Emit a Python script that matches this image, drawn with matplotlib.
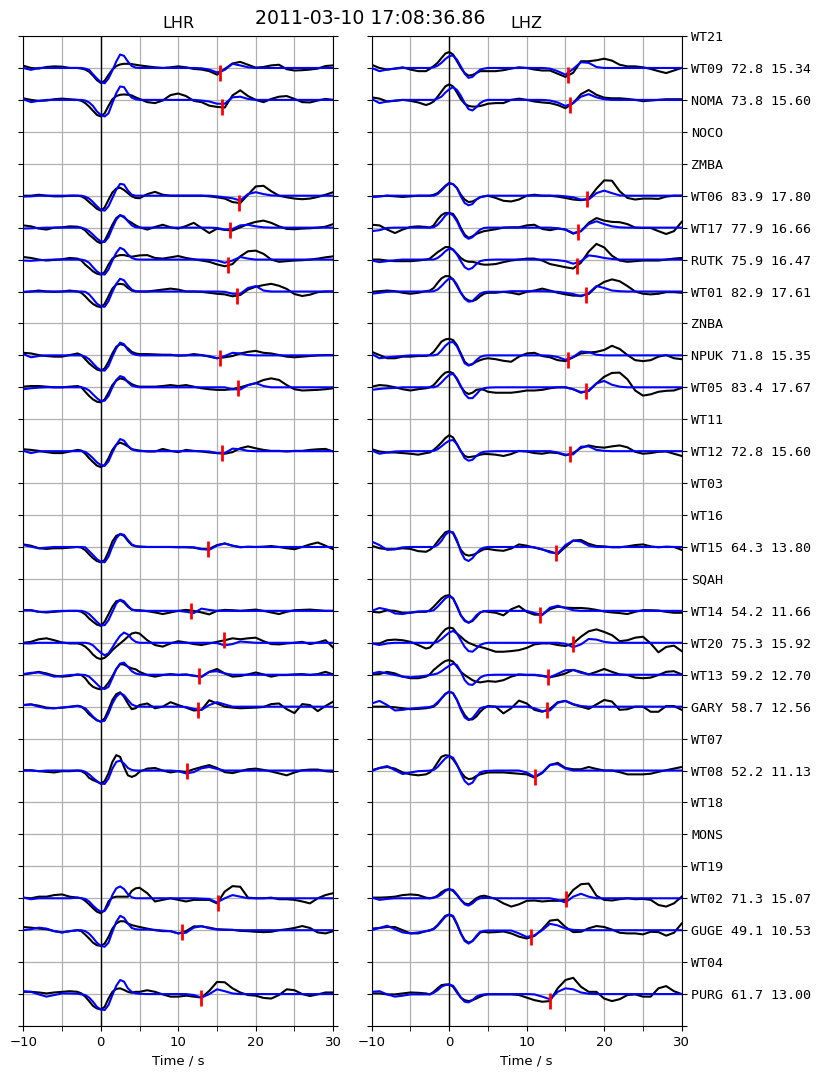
import numpy as np
import matplotlib
matplotlib.use("Agg")
import matplotlib.pyplot as plt
from matplotlib.ticker import MultipleLocator

# ---------------------------------------------------------------------------
# Sample times (s): 1 s steps, 0.5 s steps around the first arrival
t = np.r_[np.arange(-10, -2.5), np.arange(-2.5, 5.01, 0.5), np.arange(6, 31)]

# Station order, top to bottom
stations = ["WT21", "WT09", "NOMA", "NOCO", "ZMBA", "WT06", "WT17", "RUTK",
            "WT01", "ZNBA", "NPUK", "WT05", "WT11", "WT12", "WT03", "WT16",
            "WT15", "SQAH", "WT14", "WT20", "WT13", "GARY", "WT07", "WT08",
            "WT18", "MONS", "WT19", "WT02", "GUGE", "WT04", "PURG"]

# Epicentral distance (km) and marked arrival time (s) of stations with data
distance = {"WT09": 72.8, "NOMA": 73.8, "WT06": 83.9, "WT17": 77.9,
            "RUTK": 75.9, "WT01": 82.9, "NPUK": 71.8, "WT05": 83.4,
            "WT12": 72.8, "WT15": 64.3, "WT14": 54.2, "WT20": 75.3,
            "WT13": 59.2, "GARY": 58.7, "WT08": 52.2, "WT02": 71.3,
            "GUGE": 49.1, "PURG": 61.7}
arrival = {"WT09": 15.34, "NOMA": 15.60, "WT06": 17.80, "WT17": 16.66,
           "RUTK": 16.47, "WT01": 17.61, "NPUK": 15.35, "WT05": 17.67,
           "WT12": 15.60, "WT15": 13.80, "WT14": 11.66, "WT20": 15.92,
           "WT13": 12.70, "GARY": 12.56, "WT08": 11.13, "WT02": 15.07,
           "GUGE": 10.53, "PURG": 13.00}

# Normalised waveforms, in percent of the trace spacing
# ---- LHR ----
wt09_lhr_obs = [7, 0, -2, 3, 5, 4, 0, 0,
                -2, -5, -12, -24, -38, -47, -40, -22, -5, 6, 11, 13, 13, 12, 10, 8,
                5, 2, 0, 2, 5, 2, -3, -5, -10, -21, -3, 14, 19, 10, 1, 3, 8, 10, -4, -8, -7, -5, -2, 6, 8]
wt09_lhr_syn = [0, -6, 0, 0, 0, 0, 0, 0,
                0, -2, -6, -20, -33, -44, -48, -33, -8, 20, 42, 38, 20, 6, 1, 0,
                0, 0, 0, 0, 0, 0, 0, -1, -5, -14, -6, 13, 8, 2, 0, 0, 0, 0, 0, 0, 0, 0, 0, 0, 0]
noma_lhr_obs = [5, 0, -3, -2, 2, 4, 2, 0,
                -3, -10, -21, -34, -47, -52, -42, -19, 2, 12, 16, 17, 16, 14, 8, 3,
                -7, -10, -2, 15, 20, 12, -3, -7, -18, -22, -24, 14, 30, 12, 0, -7, 3, 10, 12, 3, -7, -8, -2, 3, 0]
noma_lhr_syn = [2, -7, -3, 0, 0, 0, 0, 0,
                0, -2, -8, -19, -36, -47, -52, -42, -10, 21, 42, 40, 21, 7, 2, 0,
                0, 0, 0, 0, 0, 0, 0, -2, -5, -12, -12, 8, 10, 3, 0, 0, 0, 0, 0, 0, 0, 0, 0, 0, 0]
wt06_lhr_obs = [0, 0, 3, 0, -2, -2, 0, 0,
                -2, -9, -20, -30, -41, -47, -37, -13, 10, 22, 25, 18, 8, -2, -7, -8,
                5, 12, 3, 0, 0, 0, 0, 0, -2, -5, -9, -20, -23, 3, 29, 31, 14, 0, -5, -9, -11, -9, -4, 3, 11]
wt06_lhr_syn = [-3, -2, 0, 0, 0, 0, 0, 0,
                0, -3, -9, -20, -33, -44, -47, -33, -7, 19, 37, 35, 16, 3, 0, 0,
                0, 0, 0, 0, 0, 0, 0, 0, 0, -2, -5, -8, -15, 5, 11, 5, 1, 0, 0, 0, 0, 0, 0, 0, 0]
wt17_lhr_obs = [7, 4, -3, -6, 0, 1, 4, 3,
                -1, -9, -22, -32, -43, -49, -41, -17, 9, 30, 39, 32, 22, 15, 7, 1,
                -6, 2, 9, 1, -3, 5, 15, -1, -17, -3, -7, -9, 1, 11, 18, 22, 15, 4, -4, -5, -3, -2, 0, 3, 11]
wt17_lhr_syn = [-3, -2, -1, 0, 0, 0, 0, 0,
                0, -4, -11, -22, -34, -43, -45, -30, -1, 25, 39, 35, 20, 7, 1, 0,
                0, 0, 0, 0, 0, 0, 0, 0, 0, -1, -6, -4, 7, 9, 4, 1, 0, 0, 0, 0, 0, 0, 0, 0, 0]
rutk_lhr_obs = [8, 5, 0, -3, -1, 1, 5, 3,
                -3, -16, -26, -37, -44, -47, -39, -16, 3, 11, 14, 14, 11, 9, 11, 13,
                14, 5, 3, 7, 11, 5, 1, -3, -7, -15, -21, -14, 10, 26, 28, 18, 0, -7, -5, -3, -2, 0, 3, 7, 10]
rutk_lhr_syn = [-3, -4, -2, -1, 0, 0, 0, 0,
                0, -3, -10, -24, -37, -45, -47, -31, -3, 21, 37, 31, 16, 5, 1, 0,
                0, 0, 0, 0, 0, 0, 0, 0, -1, -3, -10, -3, 8, 3, 0, 0, 0, 0, 0, 0, 0, 0, 0, 0, 0]
wt01_lhr_obs = [-2, 0, 3, 0, -1, 0, 3, 0,
                -4, -15, -28, -39, -46, -49, -39, -15, 9, 22, 24, 22, 11, 3, 0, 0,
                0, 3, 6, 9, 6, 0, 0, -1, -4, -7, -9, -15, -11, 6, 15, 20, 24, 18, 8, -8, -14, -10, -2, 0, 0]
wt01_lhr_syn = [-1, 0, 0, 0, 0, 0, 0, 0,
                0, -1, -9, -23, -38, -46, -48, -30, -1, 24, 40, 35, 19, 6, 1, 0,
                0, 0, 0, 0, 0, 0, 0, 0, 0, 0, -1, -7, -7, 11, 17, 3, 0, 0, 0, 0, 0, 0, 0, 0, 0]
npuk_lhr_obs = [8, 6, 1, -2, -4, -4, 1, 6,
                1, -12, -25, -35, -44, -48, -41, -20, 6, 27, 35, 32, 22, 11, 6, 4,
                4, 3, 2, 2, -1, 0, 4, 1, -4, -9, -6, -2, 6, 11, 14, 8, 6, 1, -4, -6, -4, -2, 0, 1, 1]
npuk_lhr_syn = [4, -6, -2, 0, 0, 0, 0, 0,
                0, -4, -12, -25, -38, -46, -48, -33, -4, 22, 40, 35, 17, 6, 2, 0,
                0, 0, 0, 0, 0, 0, 0, 0, -2, -9, -2, 8, 6, 1, 0, 0, 0, 0, 0, 0, 0, 0, 0, 0, 0]
wt05_lhr_obs = [2, 4, 4, 2, 0, 0, 2, 4,
                0, -14, -27, -38, -45, -47, -38, -17, 7, 21, 28, 25, 18, 10, 5, 2,
                2, 2, 4, 7, 4, 7, 2, -3, -6, -8, -8, -6, 0, 7, 13, 23, 28, 23, 7, -6, -10, -9, -8, -6, -3]
wt05_lhr_syn = [-6, -3, -1, 0, 0, 0, 0, 0,
                0, -3, -10, -22, -34, -43, -42, -27, 0, 23, 35, 31, 16, 5, 2, 0,
                0, 0, 0, 0, 0, 0, 0, 0, 0, 0, 0, -6, -7, 7, 13, 4, 0, 0, 0, 0, 0, 0, 0, 0, 0]
wt12_lhr_obs = [6, 4, 1, -3, -6, -6, -1, 4,
                2, -8, -22, -34, -45, -50, -43, -22, 4, 20, 27, 22, 15, 6, 4, 2,
                -1, -1, 7, 1, -3, 4, 1, -1, -4, -6, -8, -3, 9, 15, 9, 4, 1, 1, -1, 1, 1, 4, 6, 7, -1]
wt12_lhr_syn = [1, -6, -1, 0, 0, 0, 0, 0,
                0, -2, -11, -22, -35, -43, -46, -32, -4, 20, 38, 33, 17, 6, 2, 0,
                0, 0, 0, 0, 0, 0, 0, 0, -1, -6, -6, 8, 6, 1, 0, 0, 0, 0, 0, 0, 0, 0, 0, 0, 0]
wt15_lhr_obs = [8, 4, -4, -6, -4, -4, -2, 0,
                -2, -10, -23, -35, -44, -48, -41, -15, 17, 35, 40, 35, 19, 6, 2, 1,
                0, 0, 0, 0, -1, -1, -2, -7, -6, 6, 11, 4, -1, 1, 0, 1, 3, 0, -4, -7, 0, 8, 14, 4, -7]
wt15_lhr_syn = [6, 1, -4, -2, 0, 0, 0, 0,
                0, -1, -13, -25, -38, -46, -48, -30, 1, 27, 41, 38, 22, 8, 3, 1,
                0, 0, 0, 0, 0, 0, -1, -6, -9, 4, 11, 4, 0, 0, 0, 0, 0, 0, 0, 0, 0, 0, 0, 0, 0]
wt14_lhr_obs = [2, 2, -3, -5, -3, -1, 0, 0,
                -3, -11, -24, -34, -43, -47, -34, -11, 13, 30, 33, 26, 13, 4, 2, 2,
                -1, -5, -10, -5, 0, 3, 0, -5, -11, 0, 3, 2, 0, 2, 4, 0, -5, -10, -3, 2, 3, 4, 2, 0, 0]
wt14_lhr_syn = [2, 2, -3, -3, -1, 0, 0, 0,
                0, -3, -10, -22, -34, -45, -45, -29, -3, 23, 35, 30, 16, 4, 1, 0,
                0, 0, 0, 0, 0, -3, -7, 7, 3, 0, 0, 0, 0, 0, 0, 0, 0, 0, 0, 0, 0, 0, 0, 0, 0]
wt20_lhr_obs = [0, 3, 11, 14, 8, 1, -2, -2,
                -5, -12, -23, -37, -47, -51, -47, -37, -23, -12, -2, 8, 19, 29, 32, 29,
                8, -7, -12, -2, 5, 1, -4, -7, -2, 3, 8, 14, 11, 14, 16, 5, -4, -5, -2, 0, 3, -4, 1, 8, -15]
wt20_lhr_syn = [-2, -2, 0, 0, 0, 0, 0, 0,
                0, 0, -2, -8, -20, -31, -39, -33, -15, 5, 22, 32, 26, 12, 3, 0,
                0, 0, 0, 0, 0, 0, 0, 0, 0, -1, -8, -4, 4, 2, 0, 0, 0, 0, 0, 0, 0, 0, 0, 0, 0]
wt13_lhr_obs = [1, 4, 9, 4, -3, -6, -4, 1,
                -1, -11, -27, -38, -43, -46, -40, -25, -5, 18, 33, 32, 25, 20, 17, 9,
                -1, -6, -1, 2, -1, 1, -3, -6, 9, 18, 4, -6, -4, 1, 7, 1, -6, -1, -1, 1, 2, -1, 2, 9, 1]
wt13_lhr_syn = [2, 6, 7, 1, -6, -4, -1, 0,
                0, -1, -6, -17, -29, -41, -45, -38, -11, 17, 35, 38, 25, 11, 4, 1,
                0, 0, 0, 0, 0, 0, -3, -7, 9, 11, 4, 0, 0, 0, 0, 0, 0, 0, 0, 0, 0, 0, 0, 0, 0]
gary_lhr_obs = [5, 7, 3, -3, -5, -3, -1, 3,
                0, -10, -24, -34, -43, -47, -37, -10, 21, 39, 45, 31, 10, -8, -5, 5,
                10, -5, 0, 14, 5, -3, -12, -10, 20, 10, 0, -3, -5, -4, -3, -1, 8, 10, -8, -20, 8, 5, -14, 2, 16]
gary_lhr_syn = [5, 7, 0, -5, -5, -3, 0, 2,
                -1, -5, -18, -31, -42, -47, -44, -21, 10, 31, 42, 36, 21, 7, 2, 0,
                0, 0, 0, 0, 0, -1, -7, -10, 5, 14, 7, 0, 0, 0, 0, 0, 0, 0, 0, 0, 0, 0, 0, 0, 0]
wt08_lhr_obs = [1, 1, -2, -4, -6, -2, -2, 0,
                -2, -9, -23, -30, -35, -41, -33, -9, 27, 48, 43, 11, -15, -20, -15, -4,
                6, 8, 0, -6, -2, -4, 4, 11, 17, 8, -5, -8, -2, 4, 6, 2, -3, -9, -15, -6, 1, 3, 3, -2, -4]
wt08_lhr_syn = [0, 0, -2, 0, 0, 0, 0, 0,
                0, -4, -12, -23, -33, -41, -42, -25, 6, 27, 31, 22, 8, 2, 0, 0,
                0, 0, 0, 0, -2, -9, -5, 7, 11, 5, 0, 0, 0, 0, 0, 0, 0, 0, 0, 0, 0, 0, 0, 0, 0]
wt02_lhr_obs = [2, 0, 5, 5, 10, 12, 5, 2,
                0, -8, -19, -31, -42, -47, -37, -10, 2, 5, 5, 5, 5, 23, 31, 33,
                16, -10, -5, 0, -5, -10, -5, -5, -5, -16, 21, 38, 36, 2, 0, 0, 2, -3, -3, -5, -10, -16, 0, 10, 16]
wt02_lhr_syn = [2, -3, 0, 0, 0, 0, 0, 2,
                0, -2, -10, -23, -34, -42, -40, -21, 10, 31, 37, 29, 13, 3, 0, 0,
                0, 0, 0, 0, 0, 0, 0, -1, -2, -13, 0, 10, 5, 0, 0, 0, 0, 0, 0, 0, 0, 0, 0, 0, 0]
guge_lhr_obs = [10, 8, 5, 3, -3, -7, -3, 0,
                -3, -14, -26, -39, -47, -49, -42, -21, 5, 21, 28, 28, 21, 16, 13, 10,
                5, 0, -3, -3, -10, -3, 12, 12, 8, 3, 2, 1, -2, -3, -5, -6, -5, 0, 3, 7, 13, 7, -7, -10, -3]
guge_lhr_syn = [0, 3, 8, 5, -3, -7, -3, 0,
                0, -3, -11, -24, -39, -49, -52, -39, -5, 26, 45, 39, 21, 7, 3, 2,
                2, 1, -1, -3, -10, -8, 8, 13, 6, 2, 1, 1, 0, 0, 0, 0, 0, 0, 0, 0, 0, 0, 0, 0, 0]
purg_lhr_obs = [7, 7, 5, 2, 5, 7, 9, 7,
                2, -8, -22, -37, -45, -48, -40, -14, 7, 16, 18, 13, 7, 4, 7, 7,
                12, 7, -1, -8, -8, -5, -8, -11, 10, 38, 37, 18, 5, -3, -5, -12, -14, -3, 15, 12, 0, -6, -1, 5, 5]
purg_lhr_syn = [9, 7, -1, -8, -3, 2, 2, 1,
                -1, -3, -11, -24, -40, -48, -50, -34, -3, 26, 44, 39, 18, 7, 2, 1,
                0, 0, 0, 0, 0, 0, -3, -11, 0, 15, 9, 2, 0, 0, 0, 0, 0, 0, 0, 0, 0, 0, 0, 0, 0]

# ---- LHZ ----
wt09_lhz_obs = [10, 0, -5, -2, 2, -5, -10, -10,
                -3, 6, 16, 31, 45, 50, 42, 21, 0, -16, -24, -22, -16, -10, -10, -10,
                -10, -7, -2, 2, 0, -5, -8, -8, -18, -28, -15, 21, 21, 24, 29, 23, 10, 5, 5, 2, -3, -10, -16, -8, 0]
wt09_lhz_syn = [0, -10, -5, -2, 0, 0, 0, 0,
                0, 2, 7, 16, 28, 37, 39, 26, 5, -18, -31, -28, -16, -5, -2, 0,
                0, 0, 0, 0, 0, 0, 0, -2, -10, -21, -3, 18, 16, 3, 0, 0, 0, 0, 0, 0, 0, 0, 0, 0, 0]
noma_lhz_obs = [8, 4, -5, -3, 0, -3, -8, -16,
                -12, -5, 10, 26, 42, 49, 42, 23, 2, -12, -19, -21, -21, -19, -16, -12,
                -10, -10, 0, 4, 0, -5, -8, -10, -16, -26, -10, 18, 31, 16, 7, 5, 5, 3, 0, -4, -2, 0, 2, 2, 2]
noma_lhz_syn = [3, -10, -5, -2, 0, 0, 0, 0,
                0, 0, 4, 10, 23, 33, 40, 31, 13, -10, -29, -33, -23, -10, -3, 0,
                0, 0, 0, 0, 0, 0, 0, -2, -8, -19, -10, 10, 18, 8, 2, 0, 0, 0, 0, 0, 0, 0, 0, 0, 0]
wt06_lhz_obs = [-2, -2, 0, -2, -4, -2, 0, 0,
                0, 3, 8, 19, 31, 40, 36, 24, 3, -12, -20, -18, -12, -5, -2, 0,
                -7, -16, -18, -12, 0, 3, 0, 0, -3, -7, -12, -14, -10, 22, 48, 47, 14, -7, -12, -9, -9, -10, -3, 0, 0]
wt06_lhz_syn = [-5, -2, 0, 0, 0, 0, 0, 0,
                0, 0, 5, 16, 29, 38, 36, 24, -2, -23, -30, -26, -12, -4, -2, 0,
                0, 0, 0, 0, 0, 0, 0, 0, 0, -2, -5, -12, -12, 8, 16, 8, 1, 0, 0, 0, 0, 0, 0, 0, 0]
wt17_lhz_obs = [9, 7, -6, -17, -6, 2, 4, 2,
                0, 7, 25, 39, 46, 46, 43, 25, -1, -22, -32, -27, -20, -15, -11, -9,
                -5, 0, 1, 1, 7, 9, -4, -8, -3, -6, -19, -11, 15, 30, 22, 18, 17, 11, 0, -1, -1, -11, -20, -11, 18]
wt17_lhz_syn = [-11, -8, -1, 0, 0, 0, 0, 0,
                0, 1, 9, 22, 38, 46, 38, 20, -6, -27, -35, -30, -17, -6, -1, 0,
                0, 0, 0, 0, 0, 0, 0, 0, -2, -6, -17, -11, 11, 20, 11, 4, 1, 0, 0, 0, 0, 0, 0, 0, 0]
rutk_lhz_obs = [0, 0, -3, -5, -5, -5, -3, 0,
                3, 13, 23, 31, 39, 39, 31, 18, 5, -3, -7, -7, -10, -14, -16, -16,
                -14, -8, -3, 0, 3, 3, -3, -14, -19, -24, -28, -10, 25, 49, 38, 12, -3, -7, -5, -3, -3, -3, 0, 3, 5]
rutk_lhz_syn = [-3, -8, -5, -2, 0, 0, 0, 0,
                0, 0, 5, 14, 26, 34, 31, 16, -5, -24, -31, -26, -14, -5, -2, -1,
                0, 0, 0, 0, 0, 0, 0, 0, -2, -5, -13, -5, 13, 10, 5, 2, 0, 0, 0, 0, 0, 0, 0, 0, 0]
wt01_lhz_obs = [-1, 1, 3, 1, -4, -7, -4, 1,
                3, 11, 27, 41, 48, 48, 38, 17, -4, -20, -28, -30, -25, -15, -7, -4,
                -4, -1, -4, -9, -1, 3, 9, 3, -4, -9, -13, -13, -8, 15, 30, 38, 32, 17, 0, -7, -9, -7, -2, -2, -4]
wt01_lhz_syn = [-7, -4, -1, 0, 0, 0, 0, 0,
                0, 1, 6, 17, 30, 41, 38, 22, -4, -23, -32, -30, -18, -7, -2, -1,
                -1, -1, 1, 1, 1, 1, 1, 0, -1, -4, -8, -15, -5, 17, 11, 3, 1, 0, 0, 0, 0, 0, 0, 0, 0]
npuk_lhz_obs = [11, 1, -9, -9, -4, -4, -2, -2,
                1, 11, 27, 43, 50, 52, 48, 32, 6, -20, -30, -27, -20, -15, -11, -9,
                -12, -17, -20, -4, 6, 8, -2, -6, -15, -18, -6, 6, 9, 11, 17, 30, 20, 1, -15, -18, -15, -4, 1, -9, -12]
npuk_lhz_syn = [4, -9, -6, -4, -2, 0, 0, 0,
                0, 0, 3, 15, 30, 40, 42, 28, 2, -25, -32, -28, -15, -5, -1, 0,
                0, 0, 0, 0, 0, 0, 0, -1, -5, -14, -5, 12, 10, 2, 0, 0, 0, 0, 0, 0, 0, 0, 0, 0, 0]
wt05_lhz_obs = [2, 7, 5, 0, -6, -10, -6, -3,
                0, 7, 21, 35, 46, 49, 44, 25, 2, -14, -21, -17, -8, -6, -8, -14,
                -17, -17, -17, -14, -10, -10, -8, -3, 0, 0, -6, -17, -10, 12, 33, 45, 46, 25, -10, -26, -22, -14, -11, -10, -2]
wt05_lhz_syn = [-8, -5, -3, -2, 0, 0, 0, 0,
                0, 0, 4, 15, 28, 39, 42, 28, 4, -21, -34, -34, -22, -8, -3, -1,
                0, 0, 0, 0, 0, 0, 0, 0, 0, 0, -6, -15, -12, 12, 20, 8, 2, 0, 0, 0, 0, 0, 0, 0, 0]
wt12_lhz_obs = [6, -1, -4, -4, -6, -8, -11, -6,
                -4, 4, 15, 27, 41, 50, 43, 22, 0, -15, -19, -17, -15, -11, -9, -9,
                -11, -15, -9, 1, -1, -6, -8, -4, -6, -13, -6, 10, 18, 13, 11, 15, 18, 12, -2, -8, -6, -2, -1, -8, -15]
wt12_lhz_syn = [2, -8, -4, -1, 0, 0, 0, 0,
                0, 1, 6, 15, 25, 33, 35, 22, 0, -22, -30, -27, -15, -6, -2, -1,
                0, 0, 0, 0, 0, 0, 0, 0, -4, -11, -10, 14, 15, 4, 1, 0, 0, 0, 0, 0, 0, 0, 0, 0, 0]
wt15_lhz_obs = [4, -4, -7, -7, -4, -6, -13, -15,
                -9, 1, 17, 32, 46, 50, 43, 17, -9, -23, -27, -25, -20, -13, -7, -6,
                -10, -12, -5, 8, 4, -2, -8, -14, -22, 0, 20, 22, 10, 3, 2, -1, -1, 2, 6, 8, 2, -1, 1, 0, -9]
wt15_lhz_syn = [17, 6, -9, -7, -1, 0, 0, 0,
                0, 0, 6, 19, 38, 48, 46, 22, -15, -38, -44, -35, -20, -7, -2, 0,
                0, 0, 0, 0, 0, -1, -7, -17, -20, 6, 20, 17, 4, 0, 0, 0, 0, 0, 0, 0, 0, 0, 0, 0, 0]
wt14_lhz_obs = [-3, -5, 2, 0, -6, -6, -3, -3,
                2, 13, 26, 39, 47, 49, 39, 13, -14, -29, -37, -32, -19, -5, -1, -3,
                -6, -14, 5, 15, -3, -12, -12, 5, 13, 10, 9, 9, 7, 3, -2, -5, -7, -10, -3, 2, 2, 1, -3, -6, -6]
wt14_lhz_syn = [0, 9, 4, -8, -10, -5, -2, -1,
                -1, 2, 13, 26, 39, 46, 39, 16, -14, -32, -37, -29, -14, -5, -1, 0,
                0, 0, 0, 0, 0, -7, -13, 10, 16, 9, 2, 0, 0, 0, 0, 0, 0, 0, 0, 0, 0, 0, 0, 0, 0]
wt20_lhz_obs = [-2, -2, 8, 10, 8, 3, -7, -18,
                -15, -2, 14, 29, 42, 48, 45, 29, 19, 8, 0, -5, -10, -13, -16, -20,
                -28, -28, -26, -23, -16, -5, -2, -2, -7, -10, -2, 19, 36, 42, 34, 24, 5, 8, 16, 19, -2, -30, -13, -9, -26]
wt20_lhz_syn = [-2, -7, -2, 0, 0, 0, 0, 0,
                0, 0, 3, 11, 22, 32, 37, 29, 8, -13, -26, -28, -18, -7, -2, 0,
                0, 0, 0, 0, 0, 0, 0, 0, 0, -3, -14, -5, 12, 10, 3, 0, 0, 0, 0, 0, 0, 0, 0, 0, 0]
wt13_lhz_obs = [1, 2, 9, 4, -6, -11, -11, -6,
                1, 15, 25, 35, 43, 46, 41, 25, 9, -1, -9, -17, -22, -24, -22, -20,
                -22, -17, -6, 1, -1, -1, -4, -8, -3, 4, 15, 9, 1, 9, 18, 9, 1, -1, -9, -11, -9, -1, 9, 11, 1]
wt13_lhz_syn = [4, 9, 4, -1, -6, -8, -6, -3,
                -1, 1, 4, 11, 20, 28, 35, 30, 9, -17, -30, -32, -22, -9, -3, -1,
                0, 0, 0, 0, 0, 0, -3, -8, 3, 14, 15, 6, 1, 0, 0, 0, 0, 0, 0, 0, 0, 0, 0, 0, 0]
gary_lhz_obs = [0, 0, 0, -2, -5, -8, -7, -5,
                -3, 0, 10, 26, 40, 47, 42, 21, -5, -26, -40, -40, -31, -16, -5, 2,
                0, -21, -5, 19, 10, -10, -16, -7, 14, 18, 7, 0, -7, 7, 21, 16, -10, -8, 0, 0, -16, -16, 2, 2, -10]
gary_lhz_syn = [10, 18, 5, -12, -10, -6, -4, -2,
                -1, 3, 14, 26, 39, 47, 42, 21, -10, -34, -42, -36, -21, -5, -1, 0,
                0, 0, 0, 0, 0, -5, -14, -12, 12, 18, 8, 2, 0, 0, 0, 0, 0, 0, 0, 0, 0, 0, 0, 0, 0]
wt08_lhz_obs = [1, 8, 11, 6, -6, -12, -15, -12,
                -6, 6, 25, 43, 48, 46, 35, 17, -4, -20, -27, -25, -17, -12, -9, -6,
                -6, -6, -8, -10, -12, -22, -8, 17, 24, 8, 4, 4, 11, 5, 0, 0, -5, -12, -12, -12, -10, -4, 1, 6, 11]
wt08_lhz_syn = [-2, 8, 14, 1, -11, -6, -2, -1,
                0, 2, 11, 25, 38, 46, 40, 19, -9, -33, -44, -38, -20, -6, -2, -1,
                0, 0, 0, 0, -6, -20, -6, 18, 20, 6, 0, 0, 0, 0, 0, 0, 0, 0, 0, 0, 0, 0, 0, 0, 0]
wt02_lhz_obs = [2, 2, 3, 5, 10, 12, 10, 2,
                0, 2, 8, 19, 26, 29, 23, 10, -5, -16, -19, -10, 0, 6, 8, 5,
                -2, -16, -26, -19, -8, -7, -10, -8, -8, -5, 26, 44, 46, 8, -5, -7, -3, 0, -3, -2, -5, -21, -26, -16, 5]
wt02_lhz_syn = [2, -5, -2, 0, 0, 0, 0, 0,
                0, 2, 5, 12, 23, 28, 26, 12, -5, -19, -23, -16, -5, 0, 1, 1,
                0, 0, 0, 0, 0, 0, 0, 0, -5, -13, 5, 14, 5, 0, 0, 0, 0, 0, 0, 0, 0, 0, 0, 0, 0]
guge_lhz_obs = [5, 7, 10, 10, 0, -10, -10, -3,
                0, 5, 16, 31, 45, 49, 42, 18, -10, -31, -39, -34, -21, -7, -5, -7,
                -6, -4, -10, -20, -26, -18, 3, 30, 33, 10, -6, -5, 6, 13, 10, 2, -8, -10, -10, -13, -5, -6, -17, -8, 21]
guge_lhz_syn = [0, 7, 14, 3, -7, -10, -7, -3,
                -1, 3, 14, 28, 42, 49, 45, 21, -10, -34, -42, -34, -18, -5, -2, -1,
                -1, -1, -1, -10, -21, -16, 0, 20, 15, 5, 1, 0, 0, 0, 0, 0, 0, 0, 0, 0, 0, 0, 0, 0, 0]
purg_lhz_obs = [2, 2, -1, -1, 2, 5, 4, 2,
                -1, 7, 18, 28, 30, 30, 23, 5, -11, -19, -22, -19, -14, -8, -3, -1,
                -1, -1, -1, -3, -11, -19, -24, -22, 18, 44, 51, 23, 7, 7, -14, -22, -16, -3, -1, -8, -8, 18, 25, 9, 0]
purg_lhz_syn = [7, 9, -1, -8, -5, -1, -1, -1,
                -1, 4, 12, 23, 28, 30, 26, 9, -11, -24, -26, -19, -8, -3, -1, 0,
                0, 0, 0, 0, 0, -1, -8, -16, 7, 18, 15, 5, 1, 0, 0, 0, 0, 0, 0, 0, 0, 0, 0, 0, 0]

# ---------------------------------------------------------------------------
# Collect traces per component: station -> (observed, synthetic)
components = ("LHR", "LHZ")
traces = {c: {} for c in components}
for name in arrival:
    for c in components:
        key = name.lower() + "_" + c.lower()
        traces[c][name] = (np.asarray(globals()[key + "_obs"], float) / 100.0,
                           np.asarray(globals()[key + "_syn"], float) / 100.0)

row = {name: len(stations) - 1 - i for i, name in enumerate(stations)}

fig = plt.figure(figsize=(8.22, 10.72), dpi=100)
ax_r = fig.add_axes([0.0283, 0.0429, 0.3771, 0.9235])
ax_z = fig.add_axes([0.4522, 0.0429, 0.3771, 0.9235])

ytick_pos = list(range(-1, len(stations)))
ytick_lab = [""] + [
    f"{s} {distance[s]:.1f} {arrival[s]:.2f}" if s in arrival else s
    for s in stations[::-1]]

for ax, comp in ((ax_r, "LHR"), (ax_z, "LHZ")):
    ax.set_xlim(-10, 30)
    ax.set_ylim(-1, len(stations) - 1)
    ax.xaxis.set_major_locator(MultipleLocator(10))
    ax.xaxis.set_minor_locator(MultipleLocator(5))
    ax.set_yticks(ytick_pos)
    ax.grid(True, which="both", color="#b0b0b0", lw=0.9, zorder=1)
    ax.axvline(0, color="k", lw=1.0, zorder=2)

    for name, (obs, syn) in traces[comp].items():
        y0 = row[name]
        ax.plot(t, y0 + obs, color="k", lw=1.5, zorder=3)
        ax.plot(t, y0 + syn, color="blue", lw=1.5, zorder=4)
        ta = arrival[name]
        ax.plot([ta], [y0 + np.interp(ta, t, obs)], marker="|", ms=11,
                mew=2, color="red", zorder=5)

    ax.set_title(comp, fontsize=11.5)
    ax.set_xlabel("Time / s", fontsize=9.5)
    ax.tick_params(axis="x", which="both", labelsize=9.5, length=3.5)
    ax.tick_params(axis="y", left=True, right=True)

ax_r.tick_params(axis="y", labelleft=False, labelright=False)
ax_z.tick_params(axis="y", labelleft=False, labelright=True)
ax_z.set_yticklabels(ytick_lab, fontfamily="DejaVu Sans Mono", fontsize=9.6)

fig.text(0.45, 0.9776, "2011-03-10 17:08:36.86", ha="center",
         va="baseline", fontsize=13.6)

fig.savefig("out.png", dpi=100)
